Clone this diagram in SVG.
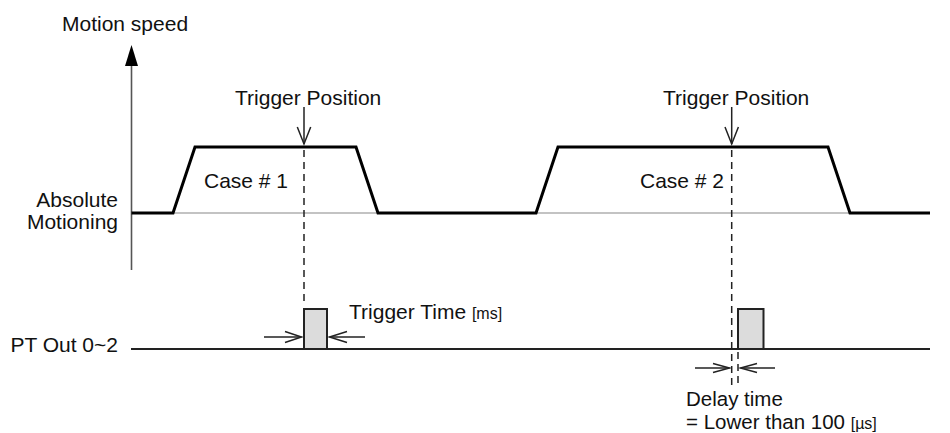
<svg xmlns="http://www.w3.org/2000/svg" width="950" height="433" viewBox="0 0 950 433">
  <style>
    text { font-family: "Liberation Sans", Arial, sans-serif; font-size: 21px; fill: #111; }
    .note { font-size: 20.5px; }
    .small { font-size: 16px; }
    .axis { stroke: #555; stroke-width: 1.6; fill: none; }
    .thin { stroke: #888; stroke-width: 1.2; fill: none; }
    .profile { stroke: #000; stroke-width: 3; fill: none; stroke-linejoin: miter; }
    .dash { stroke: #222; stroke-width: 1.5; stroke-dasharray: 7 5; fill: none; }
    .sig { stroke: #222; stroke-width: 1.8; fill: none; }
    .pulse { stroke: #222; stroke-width: 2; fill: #dcdcdc; }
    .arr { stroke: #222; stroke-width: 1.5; fill: none; }
  </style>

  <rect width="950" height="433" fill="#fff"/>

  <!-- speed axis -->
  <g id="speed-axis">
    <line class="axis" x1="131.5" y1="62" x2="131.5" y2="270"/>
    <polygon points="131.5,45 125,66 138,66" fill="#000"/>
    <text x="62" y="31">Motion speed</text>
  </g>

  <!-- row labels -->
  <g id="label-motion">
    <text x="118" y="207" text-anchor="end">Absolute</text>
    <text x="118" y="229" text-anchor="end">Motioning</text>
  </g>
  <g id="label-pt">
    <text x="118" y="352" text-anchor="end">PT Out 0~2</text>
  </g>

  <!-- speed profile -->
  <g id="profile">
    <line class="thin" x1="131.5" y1="213" x2="930" y2="213"/>
    <polyline class="profile" points="131.5,213 173,213 195,147 356,147 378,213 536,213 558,147 828,147 850,213 930,213"/>
  </g>

  <g id="case1">
    <text x="204" y="188">Case # 1</text>
  </g>
  <g id="case2">
    <text x="640" y="188">Case # 2</text>
  </g>

  <!-- trigger position markers -->
  <g id="trigger1">
    <text x="235" y="105">Trigger Position</text>
  </g>
  <g id="trigger2">
    <text x="663" y="105">Trigger Position</text>
  </g>

  <!-- PT output signal -->
  <g id="pt-signal">
    <line class="sig" x1="131" y1="349" x2="930" y2="349"/>
    <rect class="pulse" x="304" y="309" width="23" height="40"/>
    <rect class="pulse" x="738" y="309" width="25.5" height="40"/>
  </g>

  <g id="trigger-time">
    <text x="349" y="319">Trigger Time <tspan class="small">[ms]</tspan></text>
  </g>

  <g id="delay-time">
    <text class="note" x="686" y="406">Delay time</text>
    <text class="note" x="686" y="429">= Lower than 100 <tspan class="small">[µs]</tspan></text>
  </g>

  <!-- connectors -->
  <g id="connectors">
    <!-- trigger position arrows -->
    <line class="arr" x1="304" y1="107" x2="304" y2="144"/>
    <polyline class="arr" points="297.3,127 304,144 310.7,127"/>
    <line class="arr" x1="731.7" y1="107" x2="731.7" y2="144"/>
    <polyline class="arr" points="725,127 731.7,144 738.4,127"/>

    <!-- dashed guides -->
    <line class="dash" x1="304" y1="150" x2="304" y2="305"/>
    <line class="dash" x1="731.7" y1="150" x2="731.7" y2="386"/>
    <line class="dash" x1="738" y1="352" x2="738" y2="386"/>

    <!-- trigger time width arrows -->
    <line class="arr" x1="264" y1="337" x2="301.5" y2="337"/>
    <polyline class="arr" points="285,331.5 301.5,337 285,342.5"/>
    <line class="arr" x1="365" y1="337" x2="329.5" y2="337"/>
    <polyline class="arr" points="347,331.5 329.5,337 347,342.5"/>

    <!-- delay time arrows -->
    <line class="arr" x1="695" y1="368" x2="729.5" y2="368"/>
    <polyline class="arr" points="713,363.5 729.5,368 713,372.5"/>
    <line class="arr" x1="775" y1="368" x2="740.5" y2="368"/>
    <polyline class="arr" points="757,363.5 740.5,368 757,372.5"/>
  </g>
</svg>
